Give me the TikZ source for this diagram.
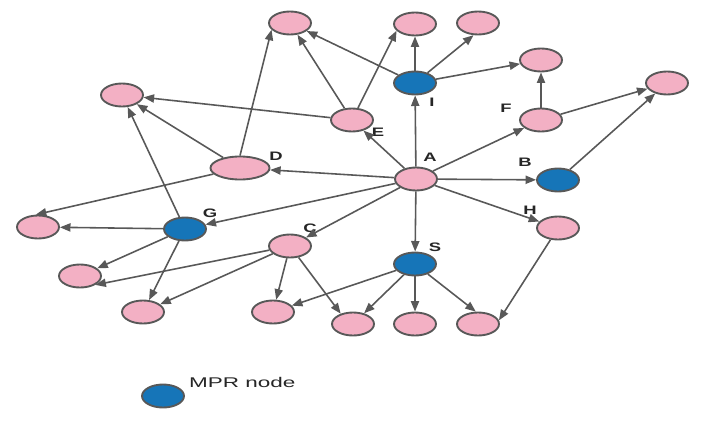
\documentclass[tikz,border=0pt]{standalone}
\usepackage{fontspec}
\newfontfamily\lblfont[FakeStretch=1.5]{Liberation Sans}
\newfontfamily\keyfont[FakeStretch=1.6]{Liberation Sans}
\usetikzlibrary{arrows.meta,shapes.geometric}
\definecolor{nodepink}{RGB}{243,176,196}
\definecolor{mprblue}{RGB}{22,117,184}
\definecolor{edgegray}{RGB}{88,88,88}
\tikzset{
  pnode/.style={ellipse,draw=edgegray,line width=1.6pt,fill=nodepink,
    inner sep=0pt,minimum width=1.26cm,minimum height=0.69cm},
  mnode/.style={pnode,fill=mprblue},
  arr/.style={-{Triangle[length=9pt,width=7pt]},draw=edgegray,line width=1.35pt},
  lbl/.style={font=\lblfont\fontsize{10.5}{12}\selectfont\bfseries,text=black!85,inner sep=0pt}
}

\begin{document}
\begin{tikzpicture}[x=0.03cm,y=-0.03cm]
  \useasboundingbox (0,0) rectangle (703,421);
  % labelled nodes
  \node[pnode] (a) at (416,179) {};
  \node[mnode] (i) at (415,83) {};
  \node[pnode] (e) at (352,120) {};
  \node[pnode,minimum width=1.77cm] (d) at (240,168) {};
  \node[pnode] (f) at (541,120) {};
  \node[mnode] (b) at (558,180) {};
  \node[mnode] (g) at (185,229) {};
  \node[pnode] (c) at (290,246) {};
  \node[mnode] (s) at (415,264) {};
  \node[pnode] (h) at (558,228) {};
  % other nodes
  \node[pnode] (t1) at (290,23) {};
  \node[pnode] (t2) at (415,24) {};
  \node[pnode] (t3) at (478,23) {};
  \node[pnode] (f1) at (541,60) {};
  \node[pnode] (r1) at (667,83) {};
  \node[pnode] (l1) at (122,95) {};
  \node[pnode] (l2) at (38,227) {};
  \node[pnode] (l3) at (80,276) {};
  \node[pnode] (l4) at (143,312) {};
  \node[pnode] (u1) at (273,312) {};
  \node[pnode] (u2) at (353,324) {};
  \node[pnode] (u3) at (415,324) {};
  \node[pnode] (u4) at (478,324) {};
  % names
  \node[lbl] (la) at (430,157) {A};
  \node[lbl] (li) at (432,102) {I};
  \node[lbl] (le) at (378,132) {E};
  \node[lbl] (ld) at (276,156) {D};
  \node[lbl] (lf) at (506,108) {F};
  \node[lbl] (lb) at (525,162) {B};
  \node[lbl] (lg) at (210,213) {G};
  \node[lbl] (lc) at (310,228) {C};
  \node[lbl] (ls) at (435,247) {S};
  \node[lbl] (lh) at (530,210) {H};
  % links from A
  \draw[arr] (a) -- (i);
  \draw[arr] (a) -- (e);
  \draw[arr] (a) -- (d);
  \draw[arr] (a) -- (f);
  \draw[arr] (a) -- (b);
  \draw[arr] (a) -- (g);
  \draw[arr] (a) -- (c);
  \draw[arr] (a) -- (s);
  \draw[arr] (a) -- (h);
  % links from I
  \draw[arr] (i) -- (t1);
  \draw[arr] (i) -- (t2);
  \draw[arr] (i) -- (t3.250);
  \draw[arr] (i) -- (f1);
  % links from E and D
  \draw[arr] (e) -- (t1);
  \draw[arr] (e) -- (t2.200);
  \draw[arr] (e) -- (l1);
  \draw[arr] (d) -- (l1);
  \draw[arr] (d.north) -- (t1.200);
  \draw[arr] (d) -- (l2.100);
  % links from F and B
  \draw[arr] (f) -- (f1);
  \draw[arr] (f) -- (r1);
  \draw[arr] (b) -- (r1);
  % links from G and C
  \draw[arr] (g) -- (l1);
  \draw[arr] (g) -- (l2);
  \draw[arr] (g) -- (l3);
  \draw[arr] (g) -- (l4);
  \draw[arr] (c) -- (l3.-30);
  \draw[arr] (c) -- (l4);
  \draw[arr] (c) -- (u1);
  \draw[arr] (c) -- (u2.140);
  % links from S and H
  \draw[arr] (s) -- (u1);
  \draw[arr] (s) -- (u2);
  \draw[arr] (s) -- (u3);
  \draw[arr] (s) -- (u4.100);
  \draw[arr] (h) -- (u4.10);
  % key
  \node[mnode] (key) at (163,396) {};
  \node[anchor=west,inner sep=0pt,font=\keyfont\fontsize{12}{14}\selectfont,text=black!85]
    (keytext) at (189,382) {MPR node};
\end{tikzpicture}
\end{document}
